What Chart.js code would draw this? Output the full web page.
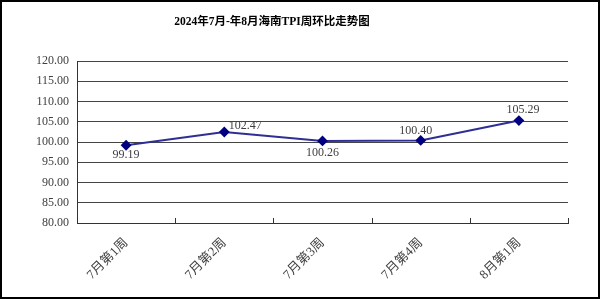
<!DOCTYPE html>
<html>
<head>
<meta charset="utf-8">
<script src="https://cdn.jsdelivr.net/npm/chart.js@4/dist/chart.umd.min.js"></script>
<style>
html,body{margin:0;padding:0;background:#fff;}
#wrap{width:600px;height:299px;box-sizing:border-box;border:2px solid #000;position:relative;}
canvas{display:block;}
</style>
</head>
<body>
<div id="wrap"><canvas id="c" width="596" height="295"></canvas></div>
<script>
const titleText = '2024年7月-年8月海南TPI周环比走势图';
const categories = ['7月第1周','7月第2周','7月第3周','7月第4周','8月第1周'];
const tpiValues = [99.19, 102.47, 100.26, 100.40, 105.29];
const yTicks = [80, 85, 90, 95, 100, 105, 110, 115, 120];

const FONT = "'Liberation Serif','Noto Sans CJK SC',serif";
const labelOffsets = [[0,10],[21,-6],[0,12],[-5,-10],[4,-11]];

const extras = {
  id: 'extras',
  afterDraw(chart) {
    const ctx = chart.ctx;
    const xs = chart.scales.x, area = chart.chartArea;
    ctx.save();
    // inward tick marks at category boundaries
    ctx.strokeStyle = '#333';
    ctx.lineWidth = 1;
    for (let i = 0; i <= categories.length; i++) {
      const x = Math.round(xs.getPixelForValue(i - 0.5)) + 0.5;
      ctx.beginPath();
      ctx.moveTo(x, area.bottom);
      ctx.lineTo(x, area.bottom - 5);
      ctx.stroke();
    }
    // data labels
    const meta = chart.getDatasetMeta(0);
    ctx.font = '12px ' + FONT;
    ctx.fillStyle = '#404040';
    ctx.textAlign = 'center';
    ctx.textBaseline = 'middle';
    meta.data.forEach((pt, i) => {
      const o = labelOffsets[i];
      ctx.fillText(tpiValues[i].toFixed(2), pt.x + o[0], pt.y + o[1]);
    });
    // title
    ctx.font = 'bold 11.5px ' + FONT;
    ctx.fillStyle = '#000';
    ctx.fillText(titleText, 270, 20);
    ctx.restore();
  }
};

new Chart(document.getElementById('c'), {
  type: 'line',
  data: {
    labels: categories,
    datasets: [{
      data: tpiValues,
      borderColor: '#2e2e94',
      borderWidth: 2,
      pointStyle: 'rectRot',
      pointRadius: 4,
      pointBackgroundColor: '#000080',
      pointBorderColor: '#000080',
      tension: 0
    }]
  },
  options: {
    responsive: false,
    animation: false,
    layout: { padding: { top: 59, right: 30, left: 0, bottom: 0 } },
    plugins: { legend: { display: false }, tooltip: { enabled: false } },
    scales: {
      x: {
        offset: true,
        afterFit(s) { s.height = 74; },
        grid: { display: true, drawOnChartArea: false, drawTicks: false, offset: true },
        border: { display: true, color: '#333', width: 1 },
        ticks: {
          maxRotation: 45, minRotation: 45, padding: 12,
          color: '#404040', font: { family: FONT, size: 13 }
        }
      },
      y: {
        min: 80, max: 120,
        afterFit(s) { s.width = 75; },
        afterBuildTicks(s) { s.ticks = yTicks.map(v => ({ value: v })); },
        grid: { color: '#444', drawTicks: false },
        border: { display: true, color: '#333', width: 1 },
        ticks: {
          padding: 8, color: '#404040',
          font: { family: FONT, size: 12 },
          callback: v => Number(v).toFixed(2)
        }
      }
    }
  },
  plugins: [extras]
});
</script>
</body>
</html>
